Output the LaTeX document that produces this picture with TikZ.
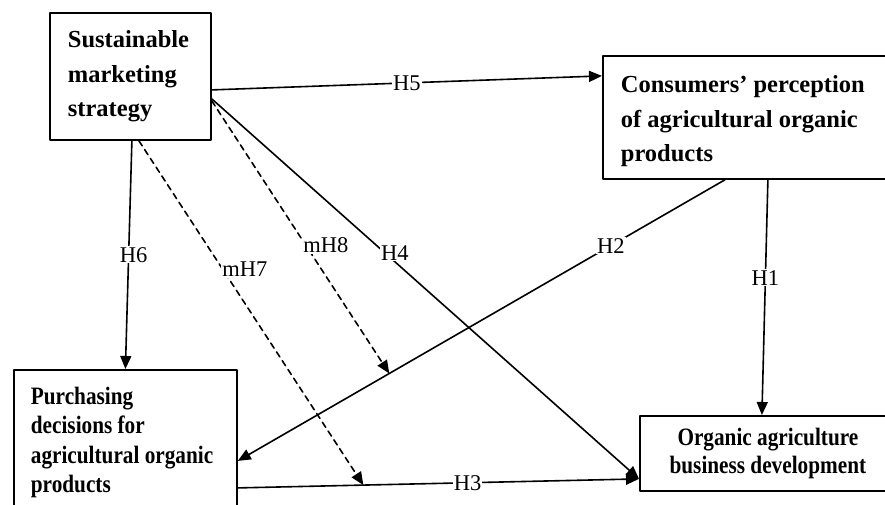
\documentclass[tikz,border=0pt]{standalone}
\usepackage{fontspec}
\setmainfont{Liberation Serif}
\newfontfamily\narrowserif[FakeStretch=0.85]{Liberation Serif}
\usepackage{tikz}
\usetikzlibrary{arrows.meta, positioning, shapes, calc}
\tikzset{>={Triangle[length=13pt, width=11pt]}}

\begin{document}
\begin{tikzpicture}[
    x=1pt, y=-1pt,
    line cap=round, line join=round,
    box/.style={
        draw,
        line width=1.8pt,
        anchor=north west,
        inner ysep=0pt,
        inner xsep=18pt,
        align=flush left
    },
    bigbox/.style={
        box,
        font=\bfseries\fontsize{24.5}{34.5}\selectfont
    },
    smallbox/.style={
        box,
        font=\narrowserif\bfseries\fontsize{25}{29.6}\selectfont
    },
    hyp/.style={
        fill=white,
        inner sep=1pt,
        font=\fontsize{22.5}{22.5}\selectfont
    },
    arrow/.style={
        ->,
        line width=1.6pt
    },
    modarrow/.style={
        arrow,
        dash pattern=on 6pt off 4.5pt
    }
]

\clip (0,0) rectangle (885,504);

\node[bigbox, text width=125pt, minimum width=161pt, minimum height=127pt] (sms) at (49,12)
{Sustainable\\marketing\\strategy};
\node[bigbox, text width=257pt, minimum width=293pt, minimum height=123pt] (cons) at (602,55)
{\rule{0pt}{25pt}Consumers’ perception\\of agricultural organic\\products};
\node[smallbox, inner xsep=17pt, text width=189pt, minimum width=223pt, minimum height=145pt] (purch) at (13,369)
{Purchasing\\decisions for\\agricultural organic\\products};
\node[smallbox, align=flush center, inner xsep=0pt, text width=256pt, minimum width=256pt, minimum height=75pt,
    font=\narrowserif\bfseries\fontsize{25}{28}\selectfont] (org) at (639,415)
{Organic agriculture\\business development};

% direct paths
\draw[arrow] ([yshift=-13.5pt]sms.east) -- node[hyp, pos=.5] {H5} ([yshift=41.5pt]cons.west);
\draw[arrow] ([xshift=1.5pt]sms.south) -- node[hyp, pos=.5, xshift=5pt] {H6} (purch.north);
\draw[arrow] ([yshift=-22.5pt]sms.east) -- node[hyp, pos=.405, xshift=10pt] {H4} ([yshift=-25.5pt]org.west);
\draw[arrow] ([xshift=-24.5pt]cons.south) -- coordinate[pos=.689] (m8) node[hyp, pos=.234] {H2} ([yshift=-18.5pt]purch.east);
\draw[arrow] ([xshift=18.5pt]cons.south) -- node[hyp, pos=.417] {H1} ([xshift=-6pt]org.north);
\draw[arrow] ([yshift=-45.5pt]purch.east) -- coordinate[pos=.313] (m7) node[hyp, pos=.573] {H3} ([yshift=-25.5pt]org.west);

% moderating paths
\draw[modarrow] ([yshift=-24.5pt]sms.east) -- node[hyp, pos=.53, xshift=20pt] {mH8} (m8);
\draw[modarrow] ([xshift=8.5pt]sms.south) -- node[hyp, pos=.374, xshift=22pt] {mH7} (m7);

\end{tikzpicture}
\end{document}
